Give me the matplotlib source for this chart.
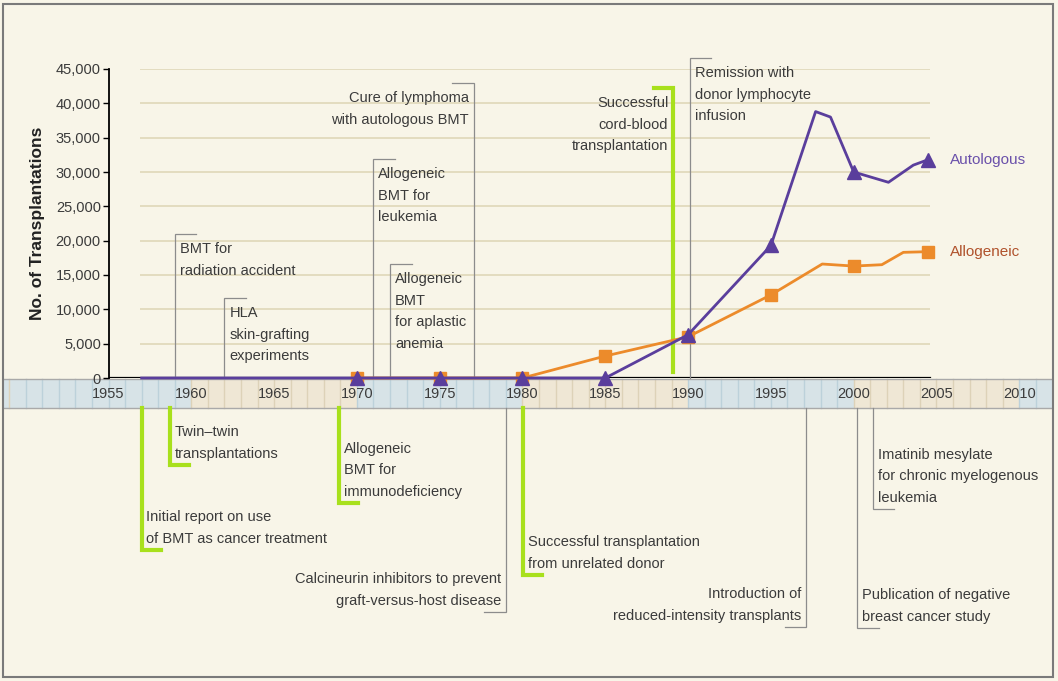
import matplotlib
matplotlib.use("Agg")
import matplotlib.pyplot as plt
from matplotlib import font_manager as fm
from matplotlib.patches import Rectangle

# pick a narrow face if the box has one, else shrink regular Liberation Sans
names = {f.name for f in fm.fontManager.ttflist}
cond = {f.name for f in fm.fontManager.ttflist if f.stretch in ('condensed', 'semi-condensed')}
if 'Liberation Sans Narrow' in names:
    FAMILY, STRETCH, FS = 'Liberation Sans Narrow', 'normal', 12
elif 'Liberation Sans' in cond:
    FAMILY, STRETCH, FS = 'Liberation Sans', 'condensed', 12
elif 'DejaVu Sans Condensed' in names:
    FAMILY, STRETCH, FS = 'DejaVu Sans Condensed', 'normal', 10.5
else:
    FAMILY, STRETCH, FS = 'Liberation Sans', 'normal', 10.5
plt.rcParams['font.family'] = [FAMILY, 'DejaVu Sans']
plt.rcParams['font.stretch'] = STRETCH
LS = 22 / (FS * 100 / 72 * 0.9)   # ~22 px between text lines

BG = '#f8f5e8'
PURPLE = '#5a3e9c'
ORANGE = '#ec8b2b'
LIME = '#a8e01c'
GRAY = '#8c8c8c'
TXT = '#3b3b3b'

# series
auto_years = [1957, 1970, 1975, 1980, 1985, 1990, 1995, 1997.7, 1998.6, 2000, 2002.1, 2003.6, 2004.5]
auto_vals = [0, 0, 0, 0, 0, 6300, 19300, 38800, 38000, 30000, 28500, 31000, 31800]
auto_marks = [1, 2, 3, 4, 5, 6, 9, 12]

allo_years = [1970, 1975, 1980, 1985, 1990, 1995, 1998.1, 2000, 2001.7, 2003.0, 2004.5]
allo_vals = [0, 0, 0, 3200, 6000, 12100, 16600, 16300, 16500, 18300, 18400]
allo_marks = [0, 1, 2, 3, 4, 5, 7, 10]

y_ticks = [0, 5000, 10000, 15000, 20000, 25000, 30000, 35000, 40000, 45000]
x_ticks = [1955, 1960, 1965, 1970, 1975, 1980, 1985, 1990, 1995, 2000, 2005, 2010]

# events: year, line start, line end, text, side of text, colour
events_top = [
    (1959.0, 0, 20970, "BMT for\nradiation accident", 'right', GRAY),
    (1962.0, 0, 11650, "HLA\nskin-grafting\nexperiments", 'right', GRAY),
    (1971.0, 0, 31890, "Allogeneic\nBMT for\nleukemia", 'right', GRAY),
    (1972.0, 0, 16600, "Allogeneic\nBMT\nfor aplastic\nanemia", 'right', GRAY),
    (1977.07, 0, 42960, "Cure of lymphoma\nwith autologous BMT", 'left', GRAY),
    (1990.1, 0, 46600, "Remission with\ndonor lymphocyte\ninfusion", 'right', GRAY),
    (1989.1, 870, 42230, "Successful\ncord-blood\ntransplantation", 'left', LIME),
]
events_bottom = [
    (1958.7, -4370, -12670, "Twin\u2013twin\ntransplantations", 'right', LIME),
    (1957.0, -4370, -25050, "Initial report on use\nof BMT as cancer treatment", 'right', LIME),
    (1968.9, -4370, -18200, "Allogeneic\nBMT for\nimmunodeficiency", 'right', LIME),
    (1979.0, -4370, -34080, "Calcineurin inhibitors to prevent\ngraft-versus-host disease", 'left', GRAY),
    (1980.05, -4370, -28690, "Successful transplantation\nfrom unrelated donor", 'right', LIME),
    (1997.15, -4370, -36260, "Introduction of\nreduced-intensity transplants", 'left', GRAY),
    (2001.15, -4370, -19080, "Imatinib mesylate\nfor chronic myelogenous\nleukemia", 'right', GRAY),
    (2000.2, -4370, -36410, "Publication of negative\nbreast cancer study", 'right', GRAY),
]

fig = plt.figure(figsize=(10.58, 6.81), dpi=100, facecolor=BG)
ax = fig.add_axes([108.5 / 1058, 303 / 681, 943.5 / 1058, 309 / 681])
ax.set_facecolor('none')
ax.set_xlim(1955, 2011.975)
ax.set_ylim(0, 45000)

# timeline band under the axis
band_lo, band_hi = -4370, -100
decades = [(1948.7, 1960), (1960, 1970), (1970, 1980), (1980, 1990),
           (1990, 2000), (2000, 2010), (2010, 2012)]
for i, (a, b) in enumerate(decades):
    c = '#d7e3e7' if i % 2 == 0 else '#efe7d5'
    ax.add_patch(Rectangle((a, band_lo), b - a, band_hi - band_lo, fc=c, ec='none',
                           clip_on=False, zorder=0))
for yr in range(1949, 2012):
    c = '#bcd1da' if ((yr - 1950) // 10) % 2 == 0 else '#ddd2b8'
    ax.plot([yr, yr], [band_lo, band_hi], color=c, lw=1, clip_on=False, zorder=0.5)
for yv in (band_lo, band_hi):
    ax.plot([1948.7, 2011.98], [yv, yv], color='#a9a9a9', lw=1, clip_on=False, zorder=0.6)

# grid and axis
ax.hlines(y_ticks[1:], 1956.9, 2004.6, color='#ddd5b4', lw=1.1, zorder=1)
ax.plot([1955, 2004.6], [0, 0], color='black', lw=1.6, zorder=2)
for s in ['top', 'right', 'bottom']:
    ax.spines[s].set_visible(False)
ax.spines['left'].set_linewidth(1.3)
ax.set_yticks(y_ticks)
ax.set_yticklabels([f"{v:,}" for v in y_ticks])
ax.set_xticks(x_ticks)
ax.tick_params(axis='y', length=4, width=1, pad=1.5, labelsize=FS, labelcolor=TXT)
ax.tick_params(axis='x', length=0, pad=6.5, labelsize=FS, labelcolor=TXT)
ax.set_ylabel("No. of Transplantations", fontsize=12.5, fontweight='bold',
              family='Liberation Sans', stretch='normal', color='#222222', labelpad=8)

# series
ax.plot(allo_years, allo_vals, color=ORANGE, lw=2, marker='s', ms=9,
        markevery=allo_marks, zorder=3, clip_on=False)
ax.plot(auto_years, auto_vals, color=PURPLE, lw=2, marker='^', ms=10,
        markevery=auto_marks, zorder=4, clip_on=False)
ax.text(2005.8, 31800, "Autologous", color='#6a50aa', fontsize=FS + 0.5, va='center')
ax.text(2005.8, 18400, "Allogeneic", color='#b0522c', fontsize=FS + 0.5, va='center')


def bracket(x, y0, y1, text, side, color, top):
    green = color == LIME
    tick = 1.15 if green else 1.3
    dx = tick if side == 'right' else -tick
    ax.plot([x, x, x + dx], [y0, y1, y1], color=color, lw=3 if green else 0.9,
            clip_on=False, zorder=2.5, solid_joinstyle='miter')
    off = 3.5 if side == 'right' else -3.5
    ax.annotate(text, (x, y1), xytext=(off, -6 if top else 3), textcoords='offset points',
                ha='left' if side == 'right' else 'right', va='top' if top else 'bottom',
                fontsize=FS, color=TXT, linespacing=LS, annotation_clip=False)


for e in events_top:
    bracket(*e, top=True)
for e in events_bottom:
    bracket(*e, top=False)

fig.patches.append(Rectangle((2.5 / 1058, 4 / 681), 1050 / 1058, 673 / 681,
                             transform=fig.transFigure, fill=False, ec='#7a7a7a', lw=1.5))

fig.savefig("out.png", dpi=100, facecolor=BG)
